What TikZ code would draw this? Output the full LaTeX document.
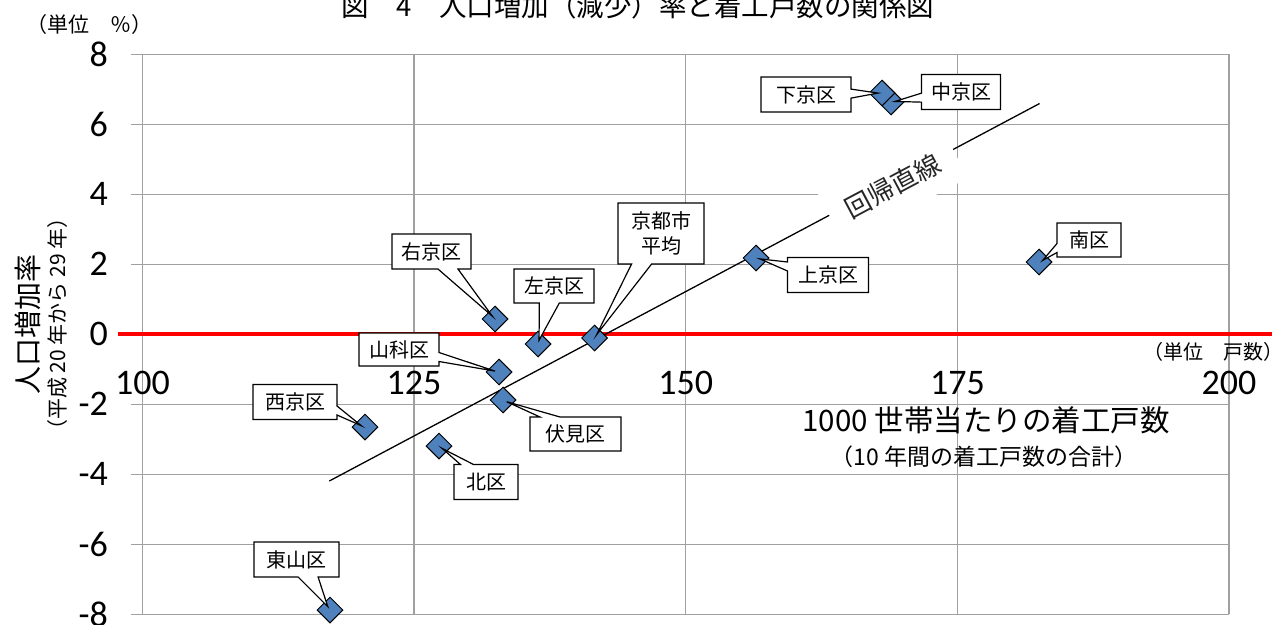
\documentclass[tikz,border=0pt]{standalone}
\usepackage{fontspec}
\newfontfamily\jp{Noto Sans CJK JP}
\newfontfamily\numf{Carlito}
\usetikzlibrary{shapes.geometric,shapes.callouts}
\definecolor{gridc}{HTML}{A0A0A0}
\definecolor{mkblue}{HTML}{4F81BD}
\definecolor{axred}{HTML}{FF0000}
\tikzset{
  gridln/.style={draw=gridc, line width=1.5pt},
  redln/.style={draw=axred, line width=4pt},
  regln/.style={draw=black, line width=1.3pt},
  ytick/.style={font=\numf\fontsize{36}{40}\selectfont, inner sep=0pt, anchor=east},
  xtick/.style={font=\numf\fontsize{36}{40}\selectfont, inner sep=0pt},
  jptext/.style={inner sep=0pt},
  mk/.style={diamond, aspect=1, draw=black, fill=mkblue, line width=1pt,
    minimum width=26pt, minimum height=26pt, inner sep=0pt},
  cbox/.style={rectangle callout, draw=black, fill=white, line width=1.2pt,
    font=\jp\fontsize{20}{25}\selectfont, inner sep=0pt,
    minimum height=35pt, minimum width=80pt,
    callout pointer width=9pt, callout pointer shorten=4pt},
  vert/.style={callout pointer width=20pt},
  reglbl/.style={fill=white, inner sep=0pt, minimum width=140pt, minimum height=56pt,
    font=\jp\fontsize{26}{28}\selectfont, text=black!85},
}
\begin{document}
\begin{tikzpicture}[x=1pt, y=-1pt]
\useasboundingbox (0,0) rectangle (1282,624);
% grid
\foreach \yy in {54.3,124.3,194.3,264.3,334.3,404.3,474.3,544.3,614.3}
  \draw[gridln] (131,\yy) -- (1229,\yy);
\foreach \xx in {142.5,414.1,685.7,957.4,1229}
  \draw[gridln] (\xx,54.3) -- (\xx,614.3);
% y tick labels
\foreach \v/\yy [count=\i] in {8/54.3,6/124.3,4/194.3,2/264.3,0/334.3,-2/404.3,-4/474.3,-6/544.3,-8/614.3}
  \node[ytick] (yl\i) at (108,\yy) {\v};
% x tick labels
\foreach \v/\xx [count=\i] in {100/142.5,125/414.1,150/685.7,175/957.4,200/1229}
  \node[xtick] (xl\i) at (\xx,383) {\v};
% zero line
\coordinate (z1) at (118,334.3);
\coordinate (z2) at (1272,334.3);
\draw[redln] (z1) -- (z2);
% regression line
\coordinate (r1) at (329.3,481);
\coordinate (r2) at (1039.6,103.5);
\draw[regln] (r1) -- (r2);
\node[reglbl, rotate=28] (rl) at (893,186) {回帰直線};
% titles
\node[jptext, font=\jp\fontsize{27.5}{30}\selectfont] (ttl) at (638,6) {図　4　人口増加（減少）率と着工戸数の関係図};
\node[jptext, font=\jp\fontsize{21}{24}\selectfont, anchor=west] (u1) at (26,25) {（単位　％）};
\node[jptext, font=\jp\fontsize{20}{24}\selectfont, anchor=east] (u2) at (1284,352) {（単位　戸数）};
\node[jptext, rotate=90, font=\jp\fontsize{28}{30}\selectfont] (yt1) at (28,324) {人口増加率};
\node[jptext, rotate=90, font=\jp\fontsize{21}{24}\selectfont] (yt2) at (58,324) {（平成 20 年から 29 年）};
\node[jptext, font=\jp\fontsize{29.5}{34}\selectfont] (xt1) at (986,420) {1000 世帯当たりの着工戸数};
\node[jptext, font=\jp\fontsize{23}{26}\selectfont] (xt2) at (984,457) {（10 年間の着工戸数の合計）};
% markers
\node[mk] (mHig) at (330,610) {};
\node[mk] (mNis) at (365,427) {};
\node[mk] (mKit) at (439,446) {};
\node[mk] (mYam) at (499,372) {};
\node[mk] (mFus) at (503,400) {};
\node[mk] (mUky) at (495,319) {};
\node[mk] (mSak) at (538,344) {};
\node[mk] (mAvg) at (594.5,338) {};
\node[mk] (mKam) at (756,258) {};
\node[mk] (mMin) at (1039,262) {};
\node[mk] (mNak) at (891,102) {};
\node[mk] (mShi) at (882,93) {};
% callouts
\node[cbox, vert, minimum width=85pt, callout absolute pointer={(mHig.center)}] (cHig) at (296.5,559.5) {東山区};
\node[cbox, minimum width=84pt, callout absolute pointer={(mNis.center)}] (cNis) at (295,402) {西京区};
\node[cbox, minimum width=64pt, callout pointer width=13pt, callout absolute pointer={(mKit.center)}] (cKit) at (486,482) {北区};
\node[cbox, minimum width=80pt, minimum height=33pt, callout absolute pointer={(mYam.center)}] (cYam) at (399,349.5) {山科区};
\node[cbox, vert, minimum width=91pt, minimum height=34pt, callout absolute pointer={(mFus.center)}] (cFus) at (575.5,434) {伏見区};
\node[cbox, vert, minimum width=79pt, callout absolute pointer={(mUky.center)}] (cUky) at (431.5,251.5) {右京区};
\node[cbox, vert, minimum width=80pt, minimum height=34pt, callout absolute pointer={(mSak.center)}] (cSak) at (554,286) {左京区};
\node[cbox, vert, align=center, minimum width=86pt, minimum height=61pt, callout absolute pointer={(mAvg.center)}] (cAvg) at (661,233.5) {京都市\\平均};
\node[cbox, minimum width=81pt, callout absolute pointer={(mKam.center)}] (cKam) at (828,275) {上京区};
\node[cbox, minimum width=64pt, minimum height=34pt, callout absolute pointer={(mMin.center)}] (cMin) at (1089,240) {南区};
\node[cbox, minimum width=79pt, callout absolute pointer={(mNak.center)}] (cNak) at (961,92) {中京区};
\node[cbox, minimum width=90pt, callout absolute pointer={(mShi.center)}] (cShi) at (806,94.5) {下京区};
\end{tikzpicture}
\end{document}
